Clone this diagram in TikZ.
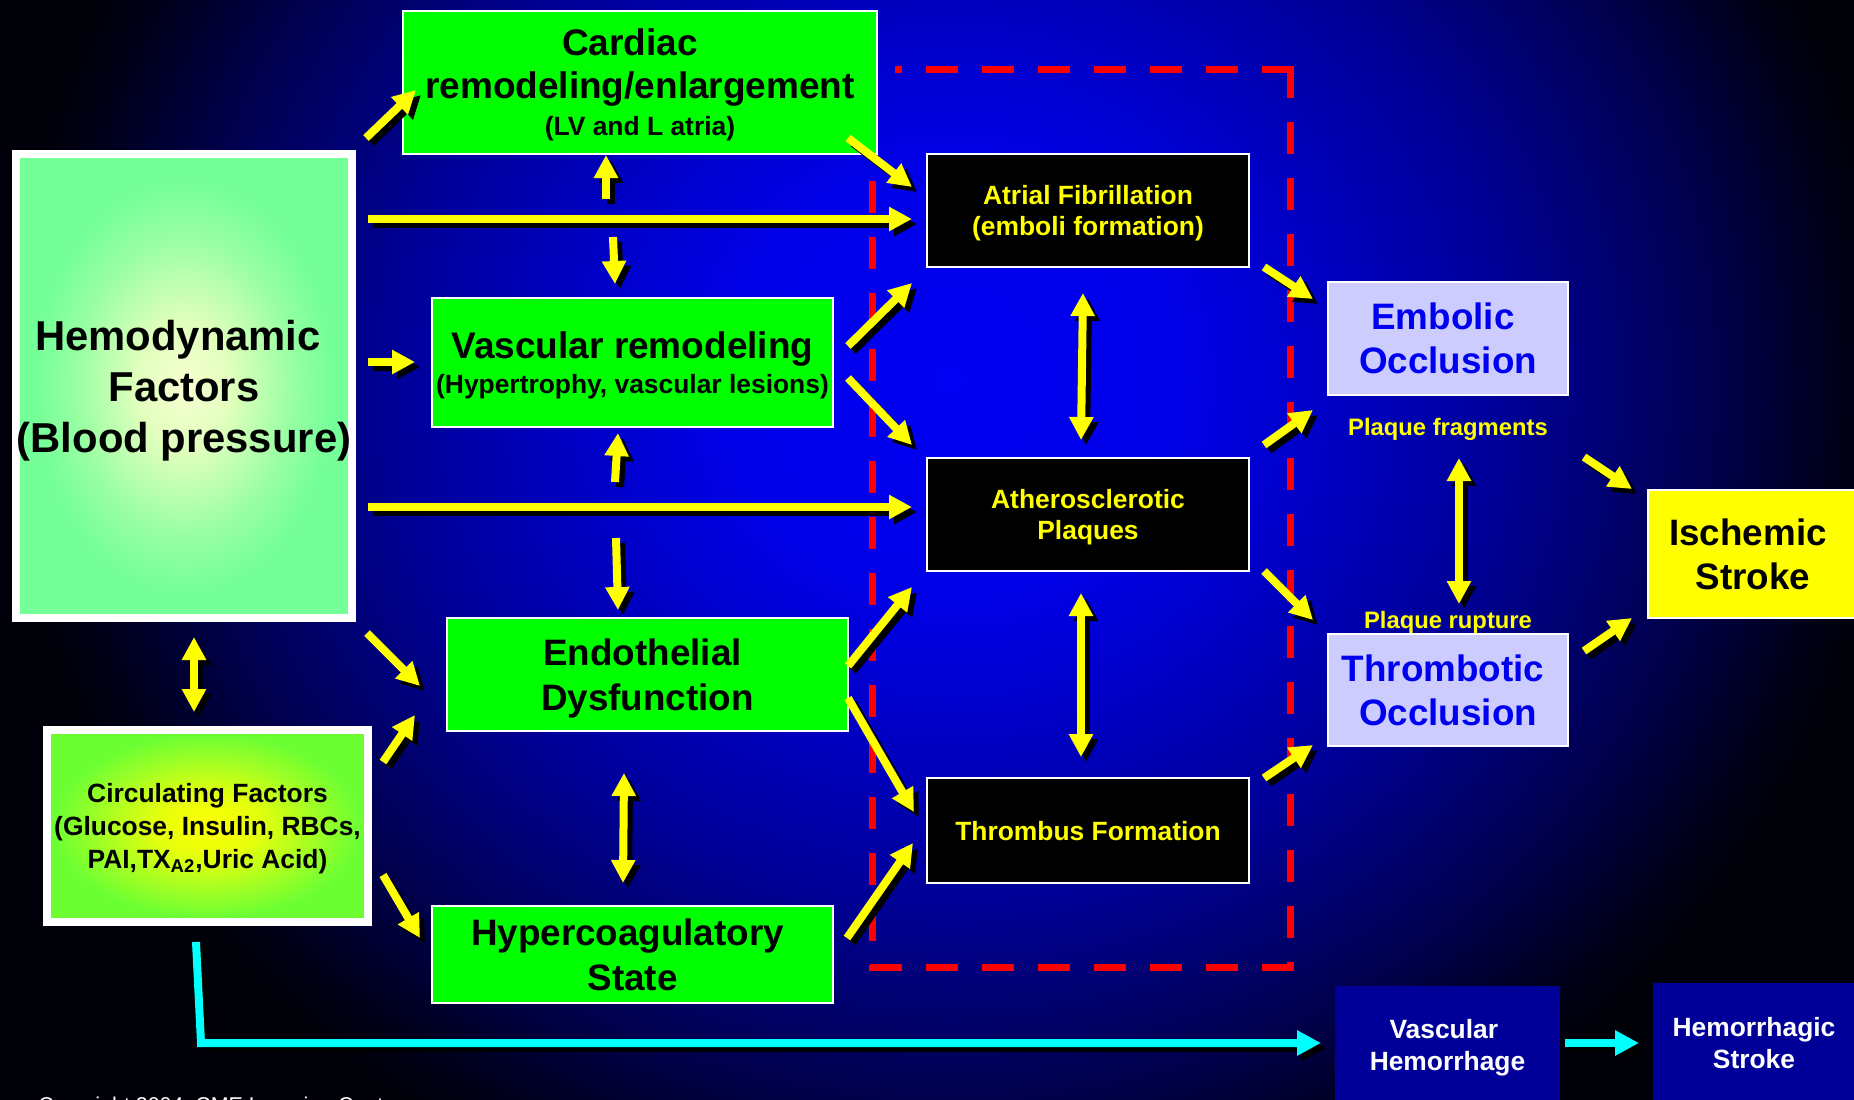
\documentclass[tikz,border=0pt]{standalone}
\usepackage{fontspec}
\setmainfont{Liberation Sans}
\usetikzlibrary{arrows.meta}
\definecolor{ygreen}{HTML}{00FF00}
\definecolor{yel}{HTML}{FFFF00}
\definecolor{lav}{HTML}{CCCCFF}
\definecolor{bluetxt}{HTML}{0000F0}
\definecolor{navybox}{HTML}{000099}
\definecolor{cyanarr}{HTML}{00FFFF}
\definecolor{reddash}{HTML}{FF0000}
\pgfdeclareradialshading{bgshade}{\pgfpointorigin}{rgb(0bp)=(0,0,0.95); rgb(6bp)=(0,0,0.91); rgb(9.25bp)=(0,0,0.8); rgb(14.5bp)=(0,0,0.6); rgb(20bp)=(0,0,0.31); rgb(23.75bp)=(0,0,0.08); rgb(25bp)=(0,0,0.03); rgb(50bp)=(0,0,0.03)}
\pgfdeclareradialshading{hemoshade}{\pgfpointorigin}{rgb(0bp)=(0.97,1,0.82); rgb(7bp)=(0.88,1,0.74); rgb(16bp)=(0.6,1,0.64); rgb(22bp)=(0.46,1,0.6); rgb(50bp)=(0.46,1,0.6)}
\pgfdeclareradialshading{circshade}{\pgfpointorigin}{rgb(0bp)=(1,1,0); rgb(8bp)=(0.9,1,0.05); rgb(18bp)=(0.6,1,0.15); rgb(24bp)=(0.42,1,0.2); rgb(50bp)=(0.42,1,0.2)}
\newcommand\yarr[4][yarr]{%
  \coordinate (#2s) at (#3); \coordinate (#2e) at (#4);
  \draw[#1,shadowc] ([shift={(5,5)}]#2s) -- ([shift={(5,5)}]#2e);
  \draw[#1] (#2s) -- (#2e);}
\begin{document}
\begin{tikzpicture}[x=0.5pt,y=-0.5pt,
  yarr/.style={line width=4pt, draw=yel, -{Triangle[length=11.5pt,width=11.5pt]}},
  ydarr/.style={line width=4pt, draw=yel, {Triangle[length=11.5pt,width=11.5pt]}-{Triangle[length=11.5pt,width=11.5pt]}},
  carr/.style={line width=4pt, draw=cyanarr, -{Triangle[length=12pt,width=12pt]}},
  shadowc/.style={draw=black},
  reddashed/.style={draw=reddash, line width=3.5pt, dash pattern=on 16pt off 12pt},
  box/.style={rectangle, inner sep=0pt, align=center},
  greenbox/.style={box, fill=ygreen, draw=white, line width=0.8pt, text=black},
  blackbox/.style={box, fill=black, draw=white, line width=1pt, text=yel, font=\fontsize{13.2}{15.5}\selectfont\bfseries},
  lavbox/.style={box, fill=lav, draw=white, line width=1pt, text=bluetxt, font=\fontsize{18.4}{22}\selectfont\bfseries},
  navyb/.style={box, fill=navybox, text=white, font=\fontsize{13.2}{16}\selectfont\bfseries},
  lbl/.style={text=yel, font=\fontsize{11.9}{14}\selectfont\bfseries, inner sep=0pt}
]
\useasboundingbox (0,0) rectangle (1854,1099);
\clip (0,0) rectangle (1854,1099);
\shade[shading=bgshade] (0,-510) rectangle (1900,1270);

% red dashed frame
\draw[reddashed] (1290,66) -- (1290,971);
\draw[reddashed] (1294,967) -- (868,967);
\draw[reddashed] (872,181) -- (872,971);
\draw[reddashed] (1294,69) -- (895,69);

% nodes
\node[box, shading=hemoshade, draw=white, line width=4pt, minimum width=168pt, minimum height=232pt, text depth=-1.6pt,
  font=\fontsize{20.9}{25.5}\selectfont\bfseries] (hemo) at (184,386) {Hemodynamic\hspace*{6pt}\\Factors\\(Blood pressure)};
\node[box, shading=circshade, draw=white, line width=4pt, minimum width=160.5pt, minimum height=96pt, text depth=-1.7pt,
  font=\fontsize{13.2}{16.3}\selectfont\bfseries] (circ) at (207.5,826) {Circulating Factors\\(Glucose, Insulin, RBCs,\\PAI,TX\textsubscript{A2},Uric Acid)};
\node[greenbox, minimum width=237pt, minimum height=71.5pt, text depth=-1.9pt, font=\fontsize{18.5}{21.5}\selectfont\bfseries] (card) at (640,82.5)
  {Cardiac\hspace*{10pt}\\remodeling/enlargement\\[-3pt]{\fontsize{13.2}{15}\selectfont (LV and L atria)}};
\node[greenbox, minimum width=200.5pt, minimum height=64.5pt, text depth=-1.9pt, font=\fontsize{18.5}{21.5}\selectfont\bfseries] (vasc) at (632.5,362.5)
  {Vascular remodeling\\[-4pt]{\fontsize{13.2}{15}\selectfont (Hypertrophy, vascular lesions)}};
\node[greenbox, minimum width=200.5pt, minimum height=56.5pt, text depth=-0.8pt, font=\fontsize{18.4}{22.5}\selectfont\bfseries] (endo) at (647.5,674.5)
  {Endothelial\hspace*{5pt}\\Dysfunction};
\node[greenbox, minimum width=200.5pt, minimum height=48.5pt, text depth=-1.2pt, font=\fontsize{18.4}{22.5}\selectfont\bfseries] (hyper) at (632.5,954.5)
  {Hypercoagulatory\hspace*{5pt}\\State};
\node[blackbox, minimum width=161pt, minimum height=56.5pt, text depth=-0.7pt] (af) at (1088,210.5) {Atrial Fibrillation\\(emboli formation)};
\node[blackbox, minimum width=161pt, minimum height=56.5pt, text depth=-0.7pt] (ath) at (1088,514.5) {Atherosclerotic\\Plaques};
\node[blackbox, minimum width=161pt, minimum height=52.5pt, text depth=-2.4pt] (thr) at (1088,830.5) {Thrombus Formation};
\node[lavbox, minimum width=120pt, minimum height=56.5pt] (emb) at (1448,338.5) {Embolic\hspace*{5pt}\\Occlusion};
\node[lavbox, minimum width=120pt, minimum height=56pt] (thro) at (1448,690) {Thrombotic\hspace*{5pt}\\Occlusion};
\node[box, fill=yel, draw=white, line width=1pt, minimum width=105pt, minimum height=64pt,
  font=\fontsize{18.4}{22}\selectfont\bfseries] (isch) at (1753,554) {Ischemic\hspace*{5pt}\\Stroke};
\node[navyb, minimum width=112.5pt, minimum height=59.5pt, text depth=0.4pt] (vh) at (1447.5,1045.5) {Vascular\hspace*{3.7pt}\\Hemorrhage};
\node[navyb, minimum width=101pt, minimum height=59.5pt, text depth=-1.2pt] (hs) at (1754,1042.5) {Hemorrhagic\\Stroke};
\node[lbl, anchor=base] (pf) at (1448,435) {Plaque fragments};
\node[lbl, anchor=base] (pr) at (1448,628) {Plaque rupture};
\node[anchor=base west, inner sep=0pt, text=white, font=\fontsize{10.7}{12}\selectfont] (copy) at (38,1112) {Copyright 2004, CME Learning Center};

% yellow arrows
\yarr{a1}{366,138}{416,90}
\yarr{a2}{848,138}{912,187}
\yarr{a3}{606,199}{606,155}
\yarr{a4}{613,237}{615,284}
\yarr{a5}{368,219}{912,219}
\yarr{a6}{368,362}{415,362}
\yarr{a7}{615,482}{618,433}
\yarr{a8}{368,507}{912,507}
\yarr{a9}{616,538}{618,610}
\yarr{a10}{848,346}{912,283}
\yarr{a11}{848,378}{912,445}
\yarr{a12}{367,633}{420,686}
\yarr{a13}{383,762}{415,715}
\yarr{a14}{383,875}{420,938}
\yarr[ydarr]{a15}{624,773}{623,883}
\yarr{a16}{848,666}{912,587}
\yarr{a17}{848,698}{914,812}
\yarr{a18}{847,938}{913,843}
\yarr[ydarr]{a19}{1083,293}{1081,440}
\yarr[ydarr]{a20}{1081,593}{1081,757}
\yarr{a21}{1264,267}{1313,299}
\yarr{a22}{1264,445}{1313,410}
\yarr{a23}{1264,571}{1313,620}
\yarr{a24}{1264,778}{1313,745}
\yarr[ydarr]{a25}{1459,458}{1459,604}
\yarr{a26}{1584,457}{1632,489}
\yarr{a27}{1584,651}{1632,618}
\yarr[ydarr]{a28}{194,637}{194,712}

% cyan arrows
\coordinate (c1) at (196,942);
\coordinate (c2) at (201,1043);
\coordinate (c3) at (1321,1043);
\draw[carr,shadowc] ([shift={(5,5)}]c1) -- ([shift={(5,5)}]c2) -- ([shift={(5,5)}]c3);
\draw[carr] (c1) -- (c2) -- (c3);
\yarr[carr]{c4}{1565,1043}{1639,1043}
\end{tikzpicture}
\end{document}
